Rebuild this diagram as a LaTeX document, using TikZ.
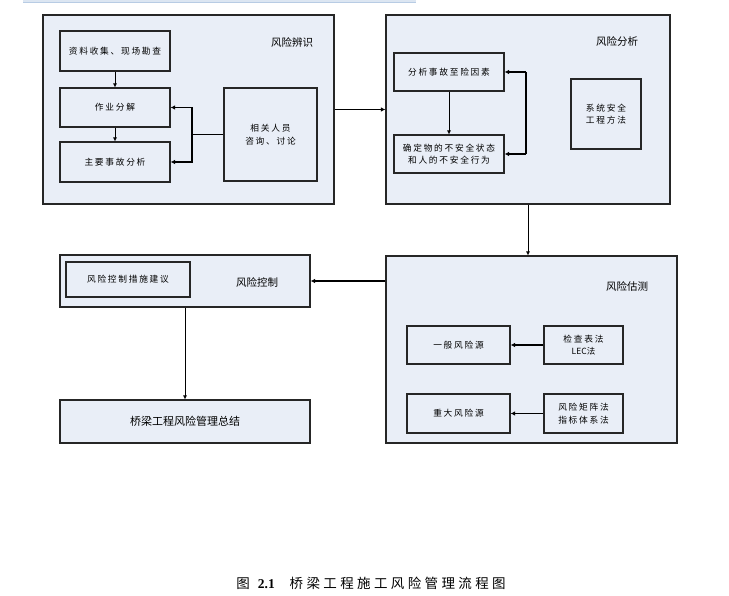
\documentclass[tikz,border=0pt]{standalone}
\usepackage{fontspec}
\setmainfont{Liberation Serif}
\newfontfamily\cjk{Noto Sans CJK SC}
\newfontfamily\cjksp[LetterSpace=20]{Noto Sans CJK SC}
\newfontfamily\cjkcap[LetterSpace=25]{Noto Sans CJK SC}
\usetikzlibrary{arrows.meta}
\definecolor{boxfill}{HTML}{E9EEF7}
\definecolor{barfill}{HTML}{DCE6F2}
\definecolor{barline}{HTML}{B8CCE4}
\tikzset{
  outer/.style={draw=black!85, line width=1.1pt, fill=boxfill, inner sep=0pt},
  inner/.style={draw=black!85, line width=1.1pt, fill=boxfill, inner sep=0pt, align=center,
    font=\cjksp\fontsize{8.7}{12.5}\selectfont},
  lbl/.style={font=\cjk\fontsize{10.5}{12}\selectfont, inner sep=0pt},
  thinarr/.style={line width=0.7pt, -{Latex[length=4pt,width=4pt]}},
  thickarr/.style={line width=1.3pt, -{Latex[length=4.5pt,width=4.5pt]}},
}
\begin{document}
\begin{tikzpicture}[x=1pt, y=-1pt]
\useasboundingbox (0,0) rectangle (729,596);
% top bar
\fill[barfill] (23,0) rectangle (416,2);
\draw[barline, line width=0.6pt] (23,2) -- (416,2);

% Box 1: risk identification
\node[outer, minimum width=291pt, minimum height=189pt] (b1) at (188.5,109.5) {};
\node[lbl] (l1) at (292,42) {风险辨识};
\node[inner, minimum width=110pt, minimum height=40pt] (a1) at (115,51) {资料收集、现场勘查};
\node[inner, minimum width=110pt, minimum height=39pt] (a2) at (115,107.5) {作业分解};
\node[inner, minimum width=110pt, minimum height=40pt] (a3) at (115,162) {主要事故分析};
\node[inner, minimum width=93pt, minimum height=93pt] (a4) at (270.5,134.5) {相关人员\\咨询、讨论};
\draw[thinarr] (a1.south) -- (a2.north);
\draw[thinarr] (a2.south) -- (a3.north);
\coordinate (j1) at (192,134.5);
\draw[line width=1.3pt] (a4.west) -- (j1);
\draw[thickarr] (j1) |- (a2.east);
\draw[thickarr] (j1) |- (a3.east);

% Box 2: risk analysis
\node[outer, minimum width=284pt, minimum height=189pt] (b2) at (528,109.5) {};
\node[lbl] (l2) at (617,41) {风险分析};
\node[inner, minimum width=110pt, minimum height=38pt] (c1) at (449,72) {分析事故至险因素};
\node[inner, minimum width=110pt, minimum height=38pt] (c2) at (449,154) {确定物的不安全状态\\和人的不安全行为};
\node[inner, minimum width=70pt, minimum height=70pt] (c3) at (606,114) {系统安全\\工程方法};
\draw[thinarr] (c1.south) -- (c2.north);
\coordinate (k1) at (526,72);
\coordinate (k2) at (526,154);
\draw[line width=1.3pt] (k1) -- (k2);
\draw[thickarr] (k1) -- (c1.east);
\draw[thickarr] (k2) -- (c2.east);

\draw[thickarr] (b1.east) -- (b2.west);

% Box 4: risk estimation
\node[outer, minimum width=291pt, minimum height=187pt] (b4) at (531.5,349.5) {};
\node[lbl] (l4) at (627,286) {风险估测};
\node[inner, minimum width=103pt, minimum height=38pt] (d1) at (458.5,345) {一般风险源};
\node[inner, minimum width=79pt, minimum height=38pt] (d2) at (583.5,345) {检查表法\\{\cjk\fontsize{8.5}{10}\selectfont LEC法}};
\node[inner, minimum width=103pt, minimum height=39pt] (d3) at (458.5,413.5) {重大风险源};
\node[inner, minimum width=79pt, minimum height=39pt] (d4) at (583.5,413.5) {风险矩阵法\\指标体系法};
\draw[thickarr] (d2.west) -- (d1.east);
\draw[thickarr] (d4.west) -- (d3.east);

\draw[thinarr] (b2.south) -- (b2.south |- b4.north);

% Box 3: risk control
\node[outer, minimum width=250pt, minimum height=52pt] (b3) at (185,281) {};
\node[inner, minimum width=124pt, minimum height=35pt] (e1) at (128,279.5) {风险控制措施建议};
\node[lbl] (l3) at (257,282) {风险控制};
\draw[thickarr] (b4.west |- b3.east) -- (b3.east);

% Box 5: summary
\node[outer, minimum width=250pt, minimum height=43pt, font=\cjk\fontsize{11}{12}\selectfont] (b5) at (185,421.5) {桥梁工程风险管理总结};
\draw[thinarr] (b3.south) -- (b5.north);

% caption
\node[inner sep=0pt, font=\fontsize{13.5}{15}\selectfont] (cap) at (371,583)
  {{\cjk 图}\hspace{0.6em}\textbf{2.1}\hspace{1.1em}{\cjkcap 桥梁工程施工风险管理流程图}};
\end{tikzpicture}
\end{document}
